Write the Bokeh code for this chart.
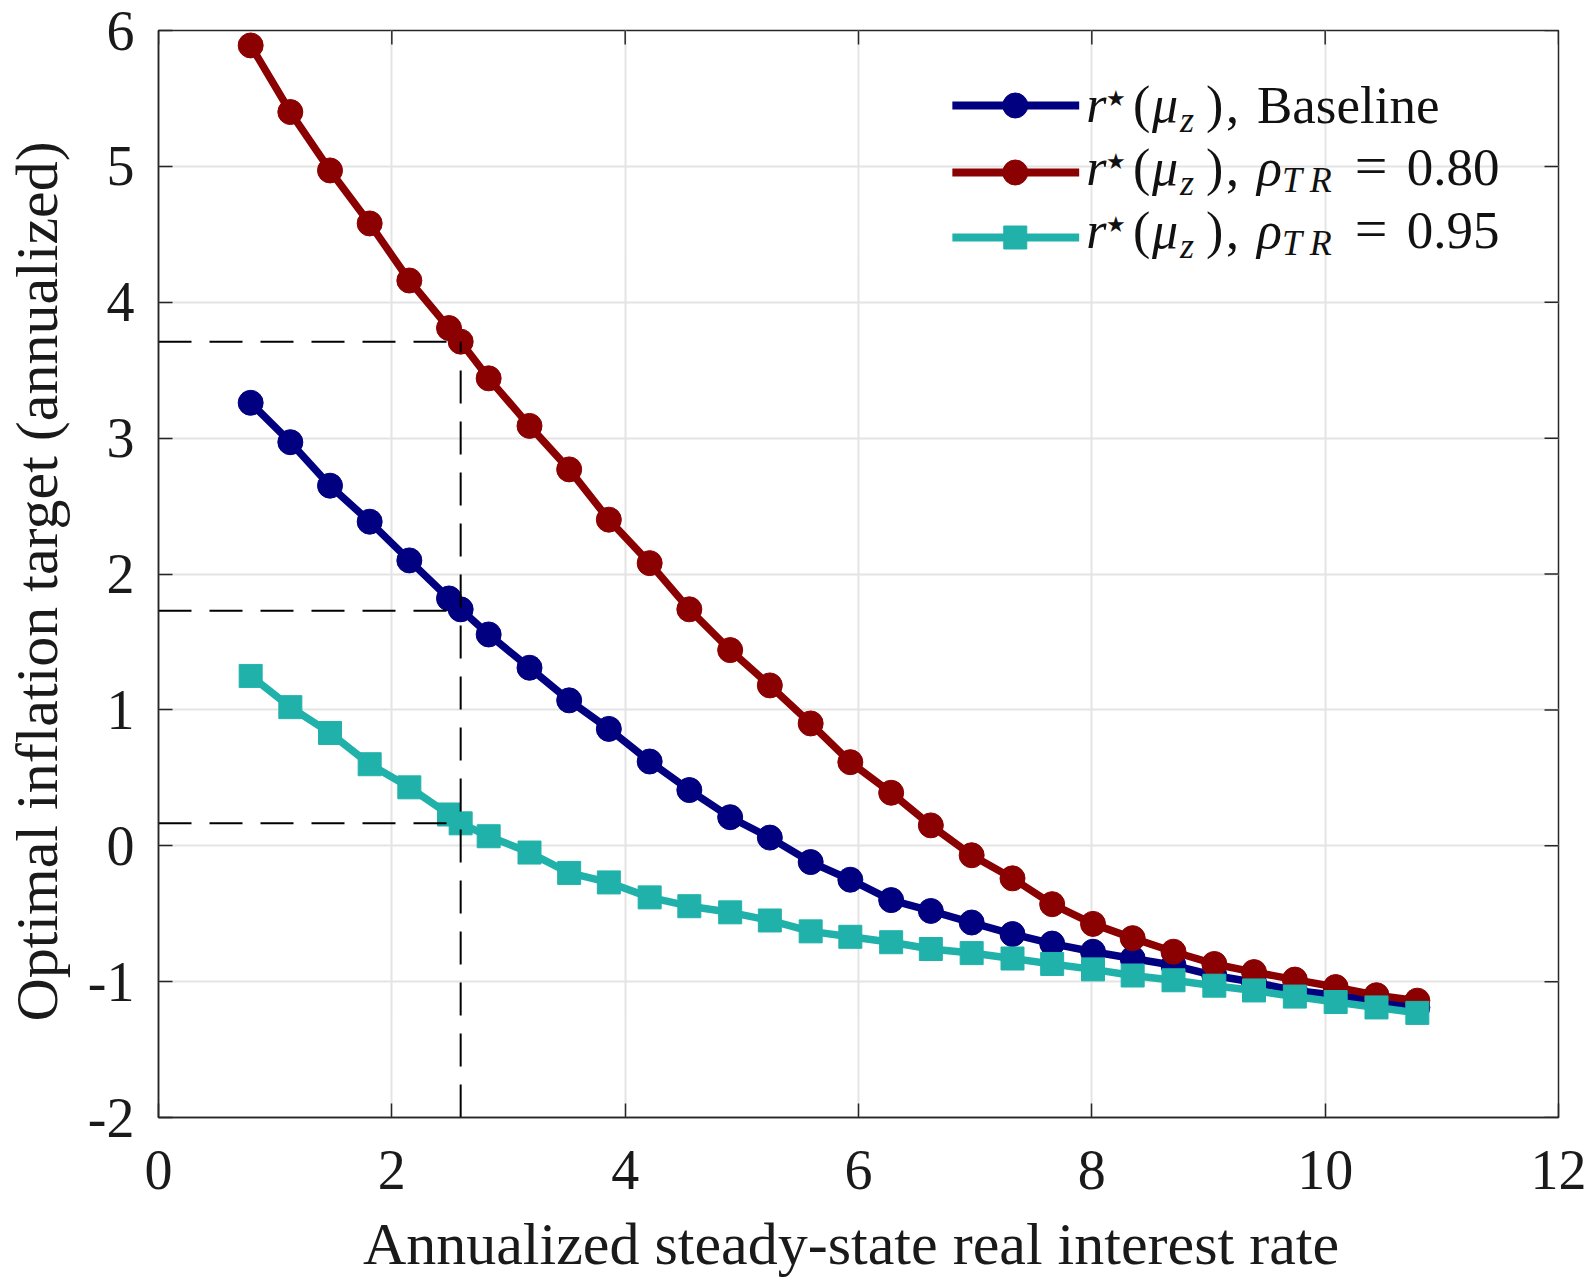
from bokeh.plotting import figure
from bokeh.models import Range1d, FixedTicker, Label
from bokeh.embed import file_html
from bokeh.resources import INLINE

# ---------------- data ----------------
r_annual = [0.79, 1.13, 1.47, 1.81, 2.15, 2.49, 2.59, 2.83, 3.18, 3.52,
            3.86, 4.21, 4.55, 4.90, 5.24, 5.59, 5.93, 6.28, 6.62, 6.97,
            7.32, 7.66, 8.01, 8.35, 8.70, 9.05, 9.39, 9.74, 10.09, 10.44, 10.79]
pi_baseline = [3.26, 2.97, 2.65, 2.385, 2.10, 1.82, 1.74, 1.555, 1.31, 1.07,
               0.86, 0.62, 0.41, 0.21, 0.06, -0.12, -0.25, -0.40, -0.48, -0.565,
               -0.65, -0.72, -0.78, -0.83, -0.88, -0.955, -1.005, -1.065, -1.10, -1.14, -1.19]
pi_rho080 = [5.89, 5.40, 4.97, 4.58, 4.16, 3.81, 3.71, 3.44, 3.09, 2.77,
             2.40, 2.08, 1.74, 1.44, 1.18, 0.90, 0.615, 0.39, 0.15, -0.07,
             -0.24, -0.43, -0.575, -0.68, -0.78, -0.87, -0.93, -0.985, -1.04, -1.10, -1.14]
pi_rho095 = [1.25, 1.02, 0.83, 0.60, 0.43, 0.23, 0.165, 0.07, -0.05, -0.20,
             -0.27, -0.38, -0.445, -0.49, -0.55, -0.63, -0.67, -0.71, -0.76, -0.79,
             -0.83, -0.87, -0.91, -0.955, -0.99, -1.03, -1.065, -1.11, -1.15, -1.19, -1.23]

r_calib = 2.59
pi_calib = [3.71, 1.73, 0.165]

x_ticks = [0, 2, 4, 6, 8, 10, 12]
y_ticks = [-2, -1, 0, 1, 2, 3, 4, 5, 6]
y_tick_labels = {-2: "-2", -1: "-1"}
x_min, x_max = 0, 12
y_min, y_max = -2, 6

x_label = "Annualized steady-state real interest rate"
y_label = "Optimal inflation target (annualized)"

NAVY = "#000080"
DARKRED = "#8B0000"
TEAL = "#20B2AA"
AXC = "#262626"
TXT = "#1a1a1a"
SERIF = "Liberation Serif"

# ---------------- layout (page pixels) ----------------
W, H = 1587, 1280
FL, FT = 156, 30          # frame left / top
FRx, FBy = 1558, 1117     # frame right / bottom
FR, FB = W - FRx, H - FBy

p = figure(width=W, height=H, x_range=Range1d(x_min, x_max), y_range=Range1d(y_min, y_max),
           output_backend="svg", toolbar_location=None,
           min_border_left=FL, min_border_right=FR, min_border_top=FT, min_border_bottom=FB)
p.background_fill_color = "white"
p.border_fill_color = "white"
p.outline_line_color = AXC
p.outline_line_width = 1.5

for ax in p.xaxis + p.yaxis:
    ax.major_tick_in = 14
    ax.major_tick_out = 0
    ax.minor_tick_line_color = None
    ax.axis_line_color = AXC
    ax.axis_line_width = 1.5
    ax.major_tick_line_color = AXC
    ax.major_tick_line_width = 1.5
    ax.major_label_text_font = SERIF
    ax.major_label_text_font_size = "56px"
    ax.major_label_text_color = TXT
    ax.axis_label_text_font = SERIF
    ax.axis_label_text_font_size = "60px"
    ax.axis_label_text_font_style = "normal"
    ax.axis_label_text_color = TXT

p.xaxis.ticker = FixedTicker(ticks=x_ticks)
p.yaxis.ticker = FixedTicker(ticks=y_ticks)
p.yaxis.major_label_overrides = y_tick_labels
p.xaxis.major_label_standoff = 33
p.yaxis.major_label_standoff = 24
p.xaxis.axis_label = x_label + "\u00a0"
p.yaxis.axis_label = y_label + "\u00a0"
p.xaxis.axis_label_standoff = 19
p.xaxis.axis_label_text_line_height = 0.8
p.yaxis.axis_label_standoff = 15

p.xgrid.ticker = FixedTicker(ticks=x_ticks)
p.ygrid.ticker = FixedTicker(ticks=y_ticks)
p.xgrid.grid_line_color = "#e4e4e4"
p.ygrid.grid_line_color = "#e4e4e4"
p.xgrid.grid_line_width = 2
p.ygrid.grid_line_width = 2

ux = (FRx - FL) / (x_max - x_min)
uy = (FBy - FT) / (y_max - y_min)


def dx(px):
    return x_min + (px - FL) / ux


def dy(py):
    return y_max - (py - FT) / uy


# inward ticks on the top and right edges of the box
TL = 14
p.segment(x0=x_ticks, y0=[y_max] * len(x_ticks), x1=x_ticks, y1=[y_max - TL / uy] * len(x_ticks),
          line_color=AXC, line_width=1.5)
p.segment(x0=[x_max] * len(y_ticks), y0=y_ticks, x1=[x_max - TL / ux] * len(y_ticks), y1=y_ticks,
          line_color=AXC, line_width=1.5)

# ---------------- series ----------------
LW = 7.5
p.line(r_annual, pi_baseline, line_color=NAVY, line_width=LW)
p.scatter(r_annual, pi_baseline, marker="circle", size=25, fill_color=NAVY, line_color=NAVY)
p.line(r_annual, pi_rho080, line_color=DARKRED, line_width=LW)
p.scatter(r_annual, pi_rho080, marker="circle", size=25, fill_color=DARKRED, line_color=DARKRED)
p.line(r_annual, pi_rho095, line_color=TEAL, line_width=LW)
p.scatter(r_annual, pi_rho095, marker="square", size=23, fill_color=TEAL, line_color=TEAL)

# dashed guides
n = len(pi_calib)
p.segment(x0=[x_min] * n, y0=pi_calib, x1=[r_calib] * n, y1=pi_calib,
          line_color="black", line_width=2, line_dash="33 18")
p.segment(x0=[r_calib], y0=[y_min], x1=[r_calib], y1=[max(pi_calib)],
          line_color="black", line_width=2, line_dash="33 18")

# ---------------- legend (manual) ----------------
rows = [
    (105, 122, NAVY, "circle", 25, None),
    (172, 185, DARKRED, "circle", 25, "0.80"),
    (237, 248, TEAL, "square", 23, "0.95"),
]
LF = 52
SF = 36


def lab(txt, px, base, size, style="normal"):
    # text placed by its alphabetic baseline (converted to the em-box middle)
    p.add_layout(Label(x=dx(px), y=dy(base - 0.3375 * size), text=txt, text_font=SERIF,
                       text_font_size=f"{size}px", text_font_style=style,
                       text_color="#111111", text_baseline="middle", text_align="left"))


for (yc, base, col, mk, ms, rho) in rows:
    p.line([dx(951), dx(1078)], [dy(yc), dy(yc)], line_color=col, line_width=8)
    p.scatter([dx(1014)], [dy(yc)], marker=mk, size=ms, fill_color=col, line_color=col)
    lab("r", 1085, base, LF, "italic")
    p.add_layout(Label(x=dx(1105), y=dy(base - 24), text="\u2605", text_font=SERIF,
                       text_font_size="22px", text_color="#111111",
                       text_baseline="middle", text_align="left"))
    lab("(", 1132, base, LF)
    lab("\u03bc", 1151, base, LF, "italic")
    lab("z", 1179, base + 10, SF, "italic")
    lab(")", 1205, base, LF)
    lab(",", 1225, base, LF)
    if rho is None:
        lab("Baseline", 1256, base, 53)
    else:
        lab("\u03c1", 1256, base, LF, "italic")
        lab("T", 1281, base + 7, SF, "italic")
        lab("R", 1309, base + 7, SF, "italic")
        lab("=", 1354, base, 58)
        lab(rho, 1406, base, 53)

open("out.html", "w").write(file_html(p, INLINE))
